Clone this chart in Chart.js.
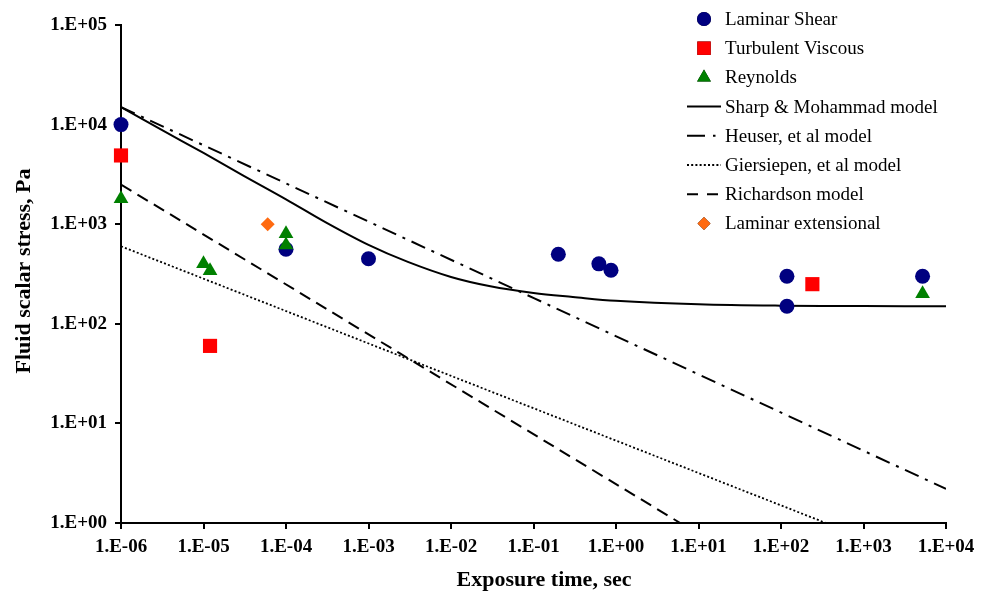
<!DOCTYPE html>
<html>
<head>
<meta charset="utf-8">
<script src="https://cdn.jsdelivr.net/npm/chart.js@4/dist/chart.umd.min.js"></script>
<style>
  html, body { margin: 0; padding: 0; background: #fff; }
  #wrap { width: 989px; height: 597px; }
</style>
</head>
<body>
<div id="wrap"><canvas id="stressChart" width="989" height="597"></canvas></div>
<script>
// axis ticks
const xTicks = [1e-6, 1e-5, 1e-4, 1e-3, 1e-2, 1e-1, 1, 10, 100, 1000, 10000];
const xTickLabels = ['1.E-06', '1.E-05', '1.E-04', '1.E-03', '1.E-02', '1.E-01', '1.E+00', '1.E+01', '1.E+02', '1.E+03', '1.E+04'];
const yTicks = [1, 10, 100, 1000, 10000, 100000];
const yTickLabels = ['1.E+00', '1.E+01', '1.E+02', '1.E+03', '1.E+04', '1.E+05'];

// measured points (time in sec, stress in Pa)
const laminarShearT = [1e-6, 1e-4, 1e-3, 0.2, 0.62, 0.87, 118, 118, 5200];
const laminarShearTau = [10000, 560, 450, 500, 400, 345, 300, 150, 300];
const turbulentT = [1e-6, 1.2e-5, 240];
const turbulentTau = [4900, 60, 250];
const reynoldsT = [1e-6, 1e-5, 1.2e-5, 1e-4, 1e-4, 5200];
const reynoldsTau = [1800, 400, 340, 800, 620, 200];
const extensionalT = [6e-5];
const extensionalTau = [1000];

// model curves
const sharpT = [1e-6, 3e-6, 1e-5, 3e-5, 1e-4, 3e-4, 1e-3, 3e-3, 1e-2, 3e-2, 1e-1, 3e-1, 1, 10, 100, 1000, 10000];
const sharpTau = [15000, 9000, 5200, 3100, 1780, 1050, 620, 418, 295, 238, 204, 186, 170, 157, 152, 150.5, 150];
const heuserT = [1e-6, 1e4];
const heuserTau = [15000, 2.2];
const giersiepenT = [1e-6, 350];
const giersiepenTau = [600, 1];
const richardsonT = [1e-6, 6];
const richardsonTau = [2500, 1];

const pts = (xs, ys) => xs.map((x, i) => ({ x: x, y: ys[i] }));
const SERIF = "'Liberation Serif', 'Times New Roman', serif";

function markerSet(label, xs, ys, style, color, radius, legendRadius, order) {
  return {
    label, data: pts(xs, ys), pointStyle: style, pointRadius: radius, pointHoverRadius: radius,
    backgroundColor: color, borderColor: color, borderWidth: 0, showLine: false, clip: false, order,
    legendRadius
  };
}
function lineSet(label, xs, ys, dash, width, legendDash) {
  return {
    label, data: pts(xs, ys), showLine: true, pointRadius: 0, borderColor: '#000', borderWidth: width,
    borderDash: dash, tension: 0.35, fill: false, order: 10,
    legendDash: legendDash || dash
  };
}

const datasets = [
  markerSet('Laminar Shear', laminarShearT, laminarShearTau, 'circle', '#000080', 7.5, 7, 4),
  markerSet('Turbulent Viscous', turbulentT, turbulentTau, 'rect', '#FF0000', 10, 9.5, 3),
  markerSet('Reynolds', reynoldsT, reynoldsTau, 'triangle', '#008000', 8.5, 8, 2),
  lineSet('Sharp & Mohammad model', sharpT, sharpTau, [], 2),
  lineSet('Heuser, et al model', heuserT, heuserTau, [15, 7, 3, 7], 2, [18, 8, 2.5, 60]),
  lineSet('Giersiepen, et al model', giersiepenT, giersiepenTau, [2, 2.2], 1.8),
  lineSet('Richardson model', richardsonT, richardsonTau, [12, 7], 2, [11, 9]),
  markerSet('Laminar extensional', extensionalT, extensionalTau, 'rectRot', '#FF6A10', 7, 6.5, 1)
];

// legend + axis titles drawn inside the canvas
const decor = {
  id: 'decor',
  afterDraw(chart) {
    const ctx = chart.ctx;
    ctx.save();
    ctx.fillStyle = '#000';
    ctx.font = 'bold 22px ' + SERIF;
    ctx.textAlign = 'center';
    ctx.textBaseline = 'middle';
    ctx.fillText('Exposure time, sec', 544, 580);
    ctx.save();
    ctx.translate(24, 271);
    ctx.rotate(-Math.PI / 2);
    ctx.fillText('Fluid scalar stress, Pa', 0, 0);
    ctx.restore();

    ctx.font = '19px ' + SERIF;
    ctx.textAlign = 'left';
    datasets.forEach((ds, i) => {
      const y = 19 + i * 29.2;
      if (ds.showLine) {
        ctx.beginPath();
        ctx.setLineDash(ds.legendDash);
        ctx.lineWidth = ds.borderWidth;
        ctx.strokeStyle = '#000';
        ctx.moveTo(687, y);
        ctx.lineTo(721, y);
        ctx.stroke();
        ctx.setLineDash([]);
      } else {
        Chart.helpers.drawPoint(ctx, { pointStyle: ds.pointStyle, radius: ds.legendRadius, borderWidth: 0 }, 704, y);
        ctx.fillStyle = ds.backgroundColor;
        ctx.fill();
      }
      ctx.fillStyle = '#000';
      ctx.fillText(ds.label, 725, y + 1);
    });
    ctx.restore();
  }
};

const tickFont = { family: SERIF, size: 19, weight: 'bold' };

new Chart(document.getElementById('stressChart'), {
  type: 'scatter',
  data: { datasets },
  options: {
    responsive: false,
    animation: false,
    layout: { padding: { top: 25, right: 43, left: 0, bottom: 0 } },
    plugins: { legend: { display: false }, tooltip: { enabled: false } },
    scales: {
      x: {
        type: 'logarithmic', min: 1e-6, max: 1e4,
        afterBuildTicks: s => { s.ticks = xTicks.map(v => ({ value: v })); },
        afterFit: s => { s.height = 74; },
        ticks: { color: '#000', font: tickFont, padding: 7, maxRotation: 0, autoSkip: false,
                 callback: (v, i) => xTickLabels[i] },
        grid: { drawOnChartArea: false, drawTicks: true, tickLength: 6, color: '#000', lineWidth: 2 },
        border: { display: true, color: '#000', width: 2 }
      },
      y: {
        type: 'logarithmic', min: 1, max: 1e5,
        afterBuildTicks: s => { s.ticks = yTicks.map(v => ({ value: v })); },
        afterFit: s => { s.width = 121; },
        ticks: { color: '#000', font: tickFont, padding: 8, autoSkip: false,
                 callback: (v, i) => yTickLabels[i] },
        grid: { drawOnChartArea: false, drawTicks: true, tickLength: 6, color: '#000', lineWidth: 2 },
        border: { display: true, color: '#000', width: 2 }
      }
    }
  },
  plugins: [decor]
});
</script>
</body>
</html>
